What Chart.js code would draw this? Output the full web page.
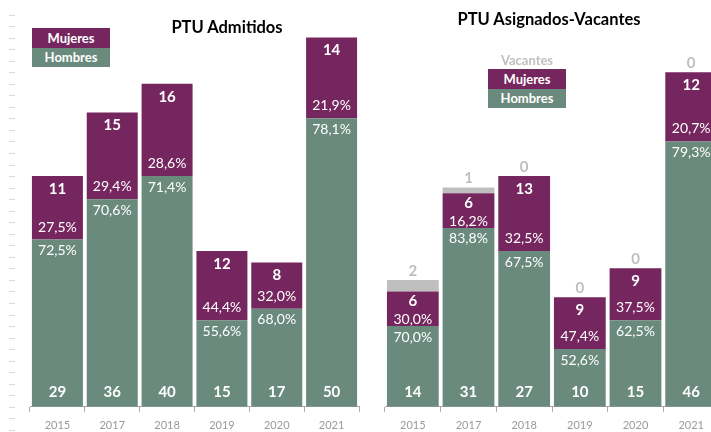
<!DOCTYPE html>
<html>
<head>
<meta charset="utf-8">
<script src="https://cdn.jsdelivr.net/npm/chart.js@4"></script>
<style>
  body { margin: 0; width: 711px; height: 432px; overflow: hidden; background: #fff; position: relative; font-family: Lato, sans-serif; }
  canvas { position: absolute; top: 0; }
  #admitidos { left: 0; }
  #asignados { left: 355px; }
  .title { position: absolute; font-weight: bold; font-size: 16.5px; color: #000; white-space: nowrap; transform: translate(-50%, -50%); }
  .key { position: absolute; width: 78px; height: 20px; line-height: 20px; text-align: center; color: #fff; font-weight: bold; font-size: 13px; }
  .vac { position: absolute; color: #bfbfbf; font-weight: bold; font-size: 13px; transform: translate(-50%, -50%); }
</style>
</head>
<body>
<canvas id="admitidos" width="362" height="439"></canvas>
<canvas id="asignados" width="366" height="439"></canvas>

<div class="title" style="left:227px; top:27px;">PTU Admitidos</div>
<div class="key" style="left:32px; top:28px; background:#76265f;">Mujeres</div>
<div class="key" style="left:32px; top:48px; height:19px; line-height:19px; background:#6a8a7d;">Hombres</div>

<div class="title" style="left:549px; top:19px;">PTU Asignados-Vacantes</div>
<div class="vac" style="left:527px; top:60px;">Vacantes</div>
<div class="key" style="left:488px; top:69px; background:#76265f;">Mujeres</div>
<div class="key" style="left:488px; top:89px; height:19px; line-height:19px; background:#6a8a7d;">Hombres</div>

<script>
const years = ['2015', '2017', '2018', '2019', '2020', '2021'];

const admitidosHombres = [29, 36, 40, 15, 17, 50];
const admitidosMujeres = [11, 15, 16, 12, 8, 14];

const asignadosHombres = [14, 31, 27, 10, 15, 46];
const asignadosMujeres = [6, 6, 13, 9, 9, 12];
const vacantes = [2, 1, 0, 0, 0, 0];

const GREEN = '#6a8a7d';
const PURPLE = '#76265f';
const GREY = '#bfbfbf';

const fmtPct = v => v.toFixed(1).replace('.', ',') + '%';

// value + percentage labels drawn inside the stacked bars
const barLabels = {
    id: 'barLabels',
    afterDatasetsDraw(chart) {
        const ctx = chart.ctx;
        const hData = chart.data.datasets[0].data;
        const mData = chart.data.datasets[1].data;
        const hMeta = chart.getDatasetMeta(0);
        const mMeta = chart.getDatasetMeta(1);
        const vSet = chart.data.datasets[2];

        ctx.save();
        ctx.textAlign = 'center';
        ctx.textBaseline = 'middle';

        hMeta.data.forEach((hBar, i) => {
            const mBar = mMeta.data[i];
            const total = hData[i] + mData[i];
            const x = hBar.x;

            ctx.fillStyle = '#fff';
            ctx.font = 'bold 15px Lato';
            ctx.fillText(hData[i], x, hBar.base - 15);

            ctx.font = '14px Lato';
            ctx.fillText(fmtPct(hData[i] / total * 100), x, hBar.y + 11);

            const h = mBar.base - mBar.y;
            const valY = mBar.y + Math.min(13, h * 0.28);
            ctx.font = 'bold 15px Lato';
            ctx.fillText(mData[i], x, valY);

            ctx.font = '14px Lato';
            ctx.fillText(fmtPct(mData[i] / total * 100), x, Math.max(mBar.base - 12.5, valY + 18));

            if (vSet) {
                const vBar = chart.getDatasetMeta(2).data[i];
                ctx.fillStyle = GREY;
                ctx.font = 'bold 15px Lato';
                ctx.fillText(vSet.data[i], x, vBar.y - 9);
            }
        });
        ctx.restore();
    }
};

// faint dashes down the left edge of the first panel
const sideDashes = {
    id: 'sideDashes',
    afterDraw(chart) {
        const ctx = chart.ctx;
        const yScale = chart.scales.y;
        ctx.save();
        ctx.strokeStyle = '#d9d9d9';
        ctx.lineWidth = 1;
        for (let v = -4; v <= 68; v += 2) {
            const y = Math.round(yScale.getPixelForValue(v)) + 0.5;
            ctx.beginPath();
            ctx.moveTo(9, y);
            ctx.lineTo(15, y);
            ctx.stroke();
        }
        ctx.restore();
    }
};

const makeOptions = (rightPad) => ({
    responsive: false,
    animation: false,
    layout: { padding: { left: 30, right: rightPad, top: 3, bottom: 0 } },
    plugins: {
        legend: { display: false },
        tooltip: { enabled: false }
    },
    scales: {
        x: {
            stacked: true,
            grid: { drawOnChartArea: false, tickLength: 5, color: '#a6a6a6' },
            border: { color: '#a6a6a6' },
            ticks: { color: '#9a9a9a', font: { family: 'Lato', size: 11 }, padding: 7 }
        },
        y: { stacked: true, display: false, min: 0, max: 70 }
    }
});

const barStyle = { categoryPercentage: 1, barPercentage: 0.93 };

new Chart(document.getElementById('admitidos'), {
    type: 'bar',
    data: {
        labels: years,
        datasets: [
            { label: 'Hombres', data: admitidosHombres, backgroundColor: GREEN, ...barStyle },
            { label: 'Mujeres', data: admitidosMujeres, backgroundColor: PURPLE, ...barStyle }
        ]
    },
    options: makeOptions(3),
    plugins: [barLabels, sideDashes]
});

new Chart(document.getElementById('asignados'), {
    type: 'bar',
    data: {
        labels: years,
        datasets: [
            { label: 'Hombres', data: asignadosHombres, backgroundColor: GREEN, ...barStyle },
            { label: 'Mujeres', data: asignadosMujeres, backgroundColor: PURPLE, ...barStyle },
            { label: 'Vacantes', data: vacantes, backgroundColor: GREY, ...barStyle }
        ]
    },
    options: makeOptions(2),
    plugins: [barLabels]
});
</script>
</body>
</html>
